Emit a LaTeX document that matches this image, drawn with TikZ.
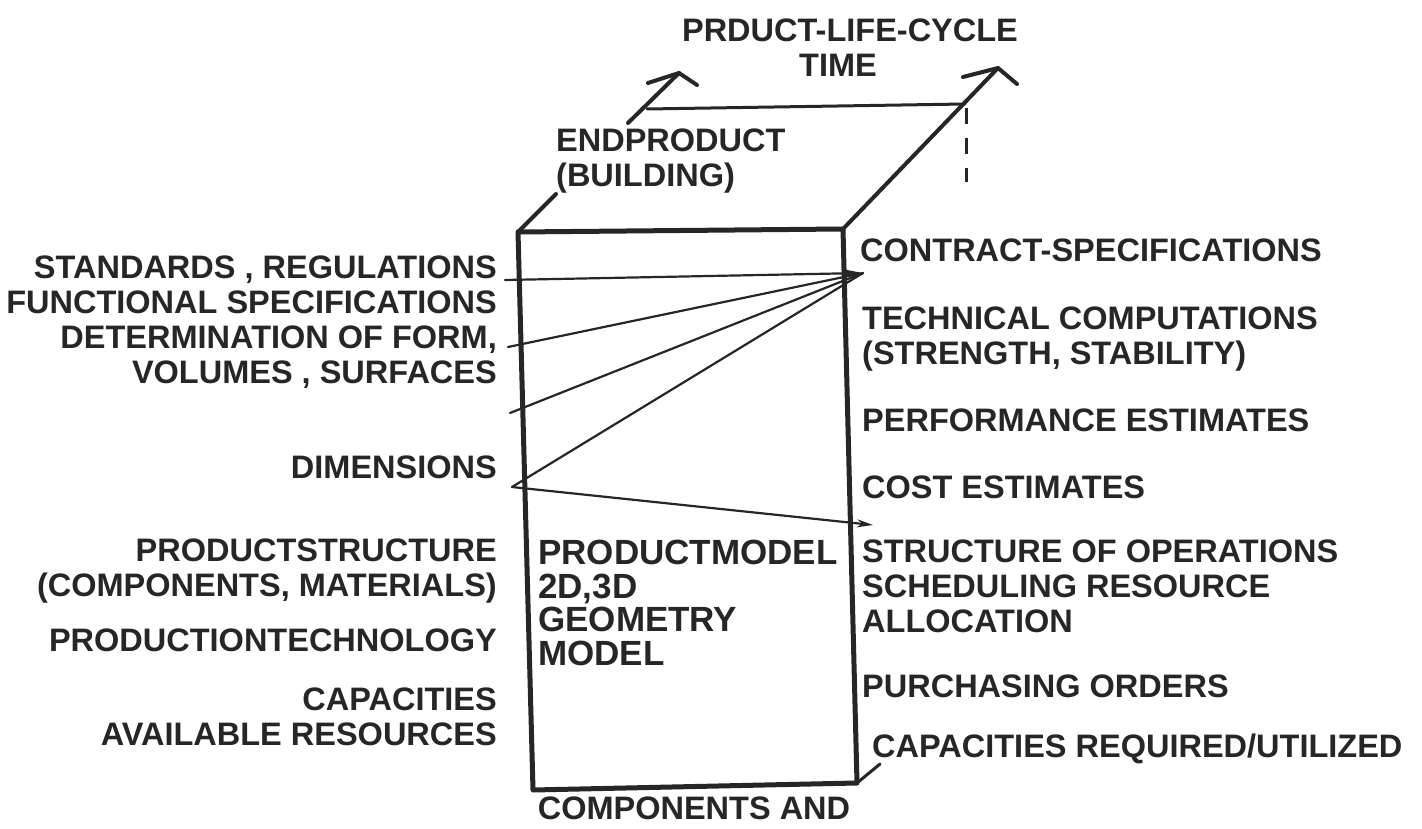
\documentclass[tikz,border=0pt]{standalone}
\usepackage{fontspec}
\setmainfont{Liberation Sans}
\usetikzlibrary{arrows.meta}
\definecolor{ink}{RGB}{38,38,38}
\begin{document}
\begin{tikzpicture}[x=1pt,y=-1pt,
  lbl/.style={font=\fontsize{32.5}{35}\selectfont\bfseries, inner sep=0pt, text=ink},
  lblr/.style={lbl, anchor=east, align=right},
  lbll/.style={lbl, anchor=west, align=left},
  boxtxt/.style={font=\fontsize{35}{33.7}\selectfont\bfseries, inner sep=0pt, text=ink, anchor=west, align=left},
  boxline/.style={draw=ink, line width=5pt, line join=round},
  edgeline/.style={draw=ink, line width=4pt, line cap=round, line join=round},
  thinline/.style={draw=ink, line width=2.2pt, line cap=round},
  tipline/.style={thinline, -{Stealth[length=22pt,width=9pt]}},
  dashline/.style={draw=ink, line width=3pt, dash pattern=on 16pt off 14pt}
]
\useasboundingbox (0,0) rectangle (1422,829);

% box corners
\coordinate (tl) at (518,232);
\coordinate (tr) at (843,229);
\coordinate (br) at (857,783);
\coordinate (bl) at (533,790);
\draw[boxline] (tl) -- (tr) -- (br) -- (bl) -- cycle;

% perspective edges
\coordinate (la) at (556,194);
\coordinate (lb) at (628,123);
\coordinate (ltip) at (679,73);
\coordinate (lw1) at (648,83);
\coordinate (lw2) at (697,85);
\draw[edgeline] (tl) -- (la);
\draw[edgeline] (lb) -- (ltip);
\draw[edgeline] (lw1) -- (ltip) -- (lw2);

\coordinate (rtip) at (998,68);
\coordinate (rw1) at (963,77);
\coordinate (rw2) at (1017,84);
\draw[edgeline] (tr) -- (rtip);
\draw[edgeline] (rw1) -- (rtip) -- (rw2);

\coordinate (back1) at (647,109);
\coordinate (back2) at (965,104);
\draw[thinline, line width=3pt] (back1) -- (back2);
\coordinate (d1) at (966,108);
\coordinate (d2) at (966,182);
\draw[dashline] (d1) -- (d2);

\coordinate (brx) at (880,764);
\draw[thinline, line width=3pt] (br) -- (brx);

% converging lines
\coordinate (ctip) at (863,273);
\coordinate (s1) at (505,280);
\coordinate (s2) at (508,347);
\coordinate (s3) at (510,413);
\coordinate (s4) at (512,487);
\draw[tipline] (s1) -- (ctip);
\draw[thinline] (s2) -- (ctip);
\draw[thinline] (s3) -- (ctip);
\draw[thinline] (s4) -- (ctip);
\coordinate (dtip) at (873,525);
\draw[thinline, -{Stealth[length=16pt,width=8pt]}] (s4) -- (dtip);

% top labels
\node[lbl] (plc) at (850,30) {PRDUCT-LIFE-CYCLE};
\node[lbl] (time) at (838,65) {TIME};
\node[lbll] (endp) at (556,161) {ENDPRODUCT\\(BUILDING)};

% left labels
\node[lblr] (std) at (497,322) {STANDARDS , REGULATIONS\\FUNCTIONAL SPECIFICATIONS\\DETERMINATION OF FORM,\\VOLUMES , SURFACES};
\node[lblr] (dim) at (497,467) {DIMENSIONS};
\node[lblr] (pstr) at (497,571) {PRODUCTSTRUCTURE\\(COMPONENTS, MATERIALS)};
\node[lblr] (ptech) at (497,640) {PRODUCTIONTECHNOLOGY};
\node[lblr] (caps) at (497,717) {CAPACITIES\\AVAILABLE RESOURCES};

% right labels
\node[lbll] (contr) at (860,250) {CONTRACT-SPECIFICATIONS};
\node[lbll] (tech) at (862,339) {TECHNICAL COMPUTATIONS\\(STRENGTH, STABILITY)};
\node[lbll] (perf) at (862,420) {PERFORMANCE ESTIMATES};
\node[lbll] (cost) at (862,487) {COST ESTIMATES};
\node[lbll] (ops) at (862,586) {STRUCTURE OF OPERATIONS\\SCHEDULING RESOURCE\\ALLOCATION};
\node[lbll] (purch) at (862,686) {PURCHASING ORDERS};
\node[lbll] (capreq) at (872,749) {CAPACITIES REQUIRED/UTILIZED};

% box text
\node[boxtxt] (pm) at (538,603) {PRODUCTMODEL\\2D,3D\\GEOMETRY\\MODEL};

% bottom
\node[lbl] (comp) at (694,808) {COMPONENTS AND};
\end{tikzpicture}
\end{document}
